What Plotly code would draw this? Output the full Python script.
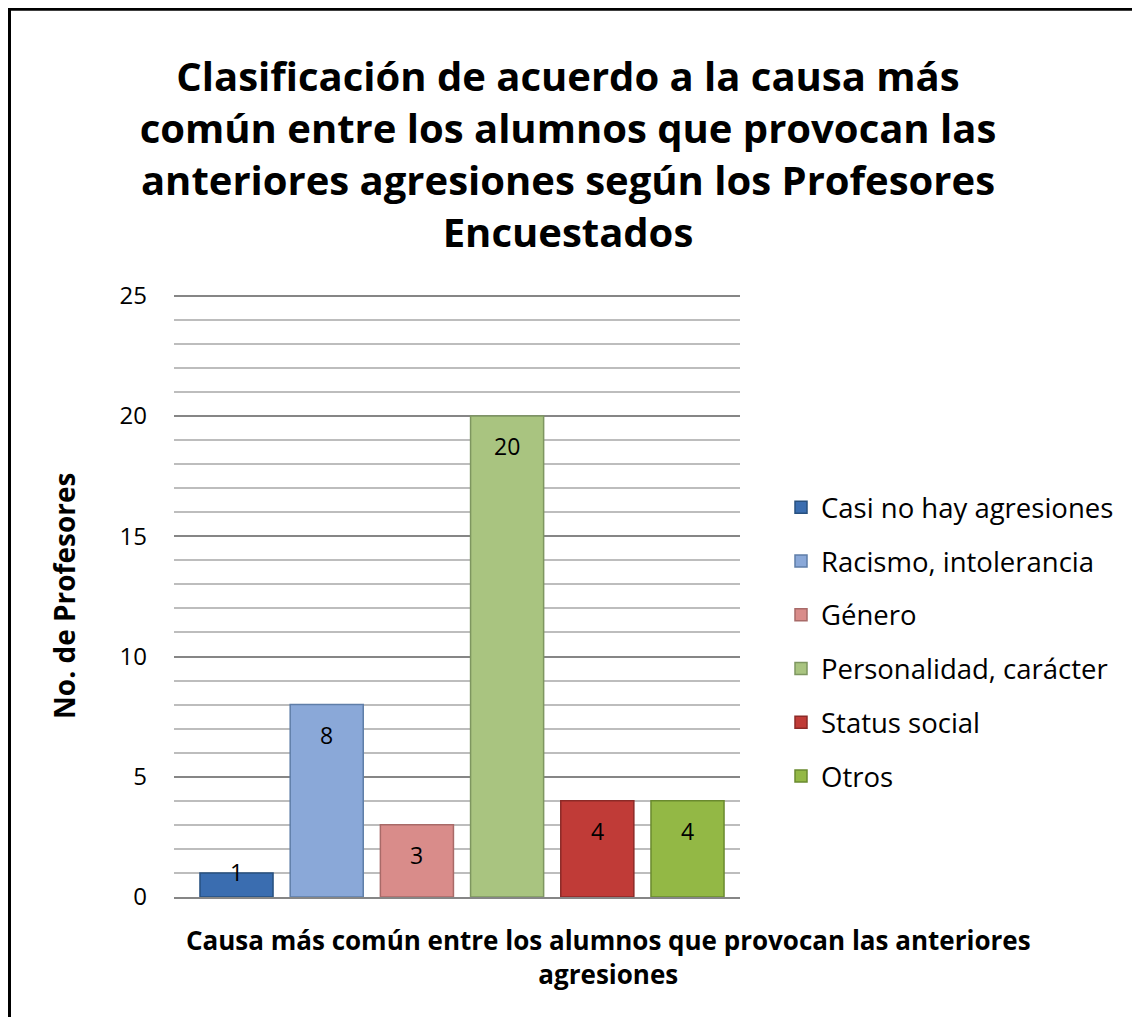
import plotly.graph_objects as go

# ---- data ----
categories = ["Casi no hay agresiones", "Racismo, intolerancia", "Género",
              "Personalidad, carácter", "Status social", "Otros"]
values = [1, 8, 3, 20, 4, 4]
fill_colors = ["#3a6db0", "#8aa8d8", "#d98c8a", "#a9c480", "#c03b37", "#93b845"]
line_colors = ["#27507f", "#5f7ea8", "#a86a68", "#7e9660", "#8c2a27", "#6a8a2f"]
y_ticks = [0, 5, 10, 15, 20, 25]
y_max = 25

title_text = ("Clasificación de acuerdo a la causa más<br>común entre los alumnos que provocan las"
              "<br>anteriores agresiones según los Profesores<br>Encuestados")
x_title = "Causa más común entre los alumnos que provocan las anteriores<br>agresiones"
y_title = "No. de Profesores"

FONT = "Open Sans"

# the page body adds an 8px margin; positions below are given in page pixels
OFF = 8
W_FIG, H_FIG = 1140 - OFF, 1017 - OFF
PAD = 0.2                              # headroom above the top value so its gridline is drawn
UNIT = (897 - 296) / y_max             # pixels per unit
PL, PR, PB = 174, 740, 897
PT = 296 - PAD * UNIT
px = lambda X: (X - PL) / (PR - PL)
py = lambda Y: (PB - Y) / (PB - PT)

fig = go.Figure()
for i, (cat, v) in enumerate(zip(categories, values)):
    fig.add_trace(go.Bar(
        x=[cat], y=[v], name=cat,
        marker=dict(color=fill_colors[i], line=dict(color=line_colors[i], width=1.5)),
        legendgroup=cat,
        hoverinfo="x+y",
    ))

# data labels
for cat, v in zip(categories, values):
    fig.add_annotation(x=cat, y=v, xref="x", yref="y", text=str(v), showarrow=False,
                       yanchor="middle", yshift=(-30 if v >= 3 else 1),
                       font=dict(family=FONT, size=23, color="#000000"))

# axis titles
fig.add_annotation(x=px(64), y=py(596), xref="paper", yref="paper", text=y_title,
                   textangle=-90, showarrow=False, xanchor="center", yanchor="middle",
                   font=dict(family=FONT, size=28, color="#000000", weight="bold"))
fig.add_annotation(x=px(608), y=py(957), xref="paper", yref="paper",
                   text=x_title, showarrow=False, xanchor="center", yanchor="middle",
                   font=dict(family=FONT, size=26, color="#000000", weight="bold"))

# chart border
fig.add_shape(type="line", xref="paper", yref="paper", x0=px(6), x1=px(1141), y0=py(9.5), y1=py(9.5),
              line=dict(color="#000000", width=3))
fig.add_shape(type="line", xref="paper", yref="paper", x0=px(9), x1=px(9), y0=py(8), y1=py(1030),
              line=dict(color="#000000", width=4))
fig.add_shape(type="line", xref="paper", yref="paper", x0=px(1139), x1=px(1139), y0=py(10), y1=py(1030),
              line=dict(color="#6e6e6e", width=2))

fig.update_layout(
    width=W_FIG, height=H_FIG,
    margin=dict(l=PL - OFF, r=W_FIG - (PR - OFF), t=PT - OFF, b=H_FIG - (PB - OFF)),
    paper_bgcolor="#ffffff", plot_bgcolor="#ffffff",
    font=dict(family=FONT, color="#000000"),
    title=dict(text=title_text, x=(568 - OFF) / W_FIG, xanchor="center", xref="container",
               y=1 - (91 - OFF) / H_FIG, yanchor="middle", yref="container",
               font=dict(family=FONT, size=40, color="#000000", weight="bold")),
    barmode="overlay",
    bargap=0.19,
    showlegend=True,
    legend=dict(x=px(781), y=py(483), xanchor="left", yanchor="top",
                font=dict(family=FONT, size=27.5, color="#000000"),
                tracegroupgap=15, itemwidth=30, bgcolor="rgba(0,0,0,0)"),
    xaxis=dict(type="category", categoryorder="array", categoryarray=categories,
               range=[-0.693, 5.582], showticklabels=False, showgrid=False,
               showline=True, linecolor="#868686", linewidth=1.5, zeroline=False, ticks=""),
    yaxis=dict(range=[0, y_max + PAD], tickvals=y_ticks, showgrid=True, gridcolor="#868686", gridwidth=1.5,
               zeroline=False, showline=False, ticks="", ticklabelstandoff=26,
               tickfont=dict(family=FONT, size=24, color="#000000"),
               minor=dict(dtick=1, showgrid=True, gridcolor="#bdbdbd", gridwidth=1.5)),
)

fig.write_html("out.html")
